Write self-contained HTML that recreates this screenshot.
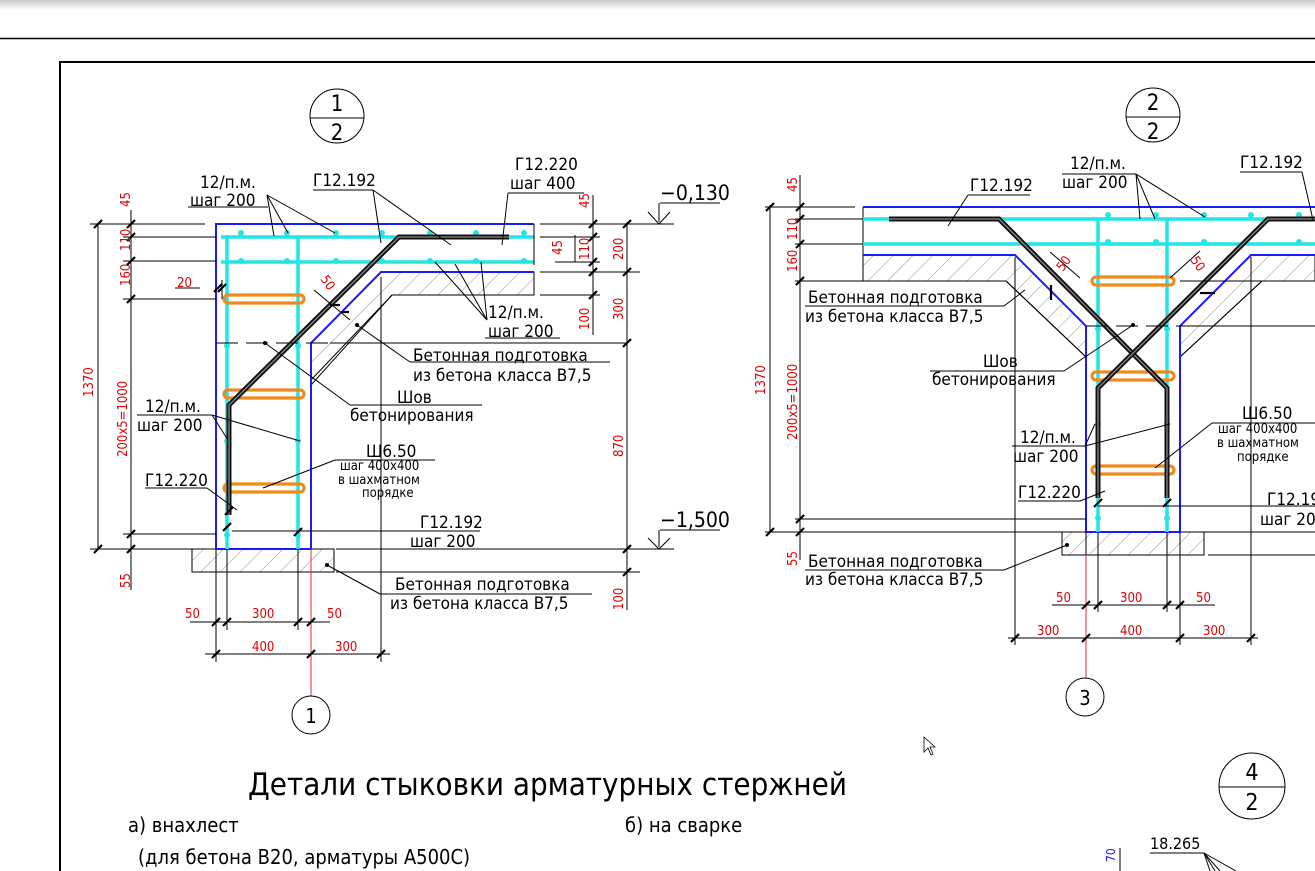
<!DOCTYPE html>
<html><head><meta charset="utf-8"><style>
html,body{margin:0;padding:0;background:#fff;width:1315px;height:871px;overflow:hidden}
svg{display:block}
text{font-family:"Liberation Sans Narrow","DejaVu Sans Condensed","Liberation Sans",sans-serif;fill:#000}
.r text{fill:#e00000}
text.bl{fill:#2020ff}
.k{stroke:#000;stroke-width:1;fill:none}
.t{stroke:#000;stroke-width:2.2}
.b{stroke:#1a1aff;stroke-width:2;fill:none}
.c{stroke:#22e6e6;stroke-width:3.5;fill:none}
.o{stroke:#f08a1a;stroke-width:3.2;fill:none;stroke-linecap:round}
.bar{stroke:#111;stroke-width:5;fill:none;stroke-linejoin:miter}
.bar2{stroke:#888;stroke-width:1.3;fill:none}
.h{fill:url(#hat);stroke:#000;stroke-width:1}
</style></head><body>
<svg width="1315" height="871" viewBox="0 0 1315 871" xmlns="http://www.w3.org/2000/svg">
<defs>
<pattern id="hat" width="14" height="14" patternUnits="userSpaceOnUse" patternTransform="rotate(45)">
<line x1="0" y1="0" x2="0" y2="14" stroke="#777" stroke-width="0.8"/>
</pattern>
<linearGradient id="g" x1="0" y1="0" x2="0" y2="1"><stop offset="0" stop-color="#c8c8c8"/><stop offset="1" stop-color="#fff"/></linearGradient>
</defs>
<rect x="0" y="0" width="1315" height="10" fill="url(#g)"/>
<line x1="0" y1="38.5" x2="1315" y2="38.5" stroke="#000" stroke-width="1.5"/>
<polyline points="60,871 60,62 1315,62" fill="none" stroke="#000" stroke-width="2"/>

<!-- ===== LEFT DETAIL ===== -->
<circle cx="337" cy="116" r="27" class="k"/>
<line x1="310" y1="118" x2="364" y2="118" class="k" stroke-width="1.5"/>
<text x="337" y="111" font-size="22" text-anchor="middle">1</text>
<text x="337" y="140" font-size="22" text-anchor="middle">2</text>

<polygon class="h" points="381,272 534,272 534,295 392,295 311,380 311,343" stroke="none"/>
<polyline points="534,295 392,295 311,385" class="k"/>
<rect class="h" x="192" y="549" width="142" height="23"/>
<polyline class="b" points="216,549 216,224 534,224"/>
<polyline class="b" points="534,272 381,272 311,343 311,549 216,549"/>
<line class="c" x1="221" y1="237" x2="534" y2="237"/>
<line class="c" x1="221" y1="262" x2="534" y2="262"/>
<line class="c" x1="227" y1="237" x2="227" y2="549"/>
<line class="c" x1="298" y1="237" x2="298" y2="549"/>
<g fill="#22e6e6"><circle cx="241" cy="233" r="3"/><circle cx="287" cy="233" r="3"/><circle cx="336" cy="233" r="3"/><circle cx="382" cy="233" r="3"/><circle cx="430" cy="233" r="3"/><circle cx="476" cy="233" r="3"/><circle cx="524" cy="233" r="3"/>
<circle cx="241" cy="261" r="3"/><circle cx="287" cy="261" r="3"/><circle cx="336" cy="261" r="3"/><circle cx="382" cy="261" r="3"/><circle cx="430" cy="261" r="3"/><circle cx="476" cy="261" r="3"/><circle cx="524" cy="261" r="3"/>
<circle cx="227" cy="346" r="3"/><circle cx="298" cy="346" r="3"/><circle cx="227" cy="441" r="3"/><circle cx="298" cy="441" r="3"/><circle cx="227" cy="535" r="3"/><circle cx="298" cy="535" r="3"/></g>
<g class="o"><path d="M228,295 H300 a4,4 0 0 1 0,8 H228 a4,4 0 0 1 0,-8"/><path d="M228,390 H300 a4,4 0 0 1 0,8 H228 a4,4 0 0 1 0,-8"/><path d="M228,484 H300 a4,4 0 0 1 0,8 H228 a4,4 0 0 1 0,-8"/></g>
<polyline class="bar" points="509,237 399,237 229,405 229,515"/>
<polyline class="bar2" points="509,237 399,237 229,405 229,515"/>
<line x1="216" y1="343" x2="627" y2="343" stroke="#000" stroke-width="1" stroke-dasharray="22,8"/>
<line x1="330" y1="343" x2="627" y2="343" stroke="#000" stroke-width="1"/>
<g class="k">
<line x1="98" y1="224" x2="98" y2="549"/><line x1="131" y1="210" x2="131" y2="590"/>
<line x1="90" y1="224" x2="205" y2="224"/><line x1="123" y1="237" x2="216" y2="237"/><line x1="123" y1="261" x2="216" y2="261"/><line x1="123" y1="299" x2="216" y2="299"/><line x1="123" y1="534" x2="216" y2="534"/><line x1="90" y1="549" x2="192" y2="549"/>
<line x1="175" y1="288" x2="200" y2="288"/>
<line x1="222" y1="280" x2="222" y2="299"/>
<line x1="593" y1="195" x2="593" y2="335"/><line x1="627" y1="222" x2="627" y2="610"/>
<line x1="540" y1="224" x2="674" y2="224"/><line x1="540" y1="237" x2="600" y2="237"/><line x1="540" y1="272" x2="640" y2="272"/><line x1="540" y1="295" x2="600" y2="295"/>
<line x1="555" y1="262" x2="600" y2="262"/><line x1="575" y1="235" x2="575" y2="262"/>
<line x1="534" y1="224" x2="534" y2="265"/>
<line x1="336" y1="549" x2="674" y2="549"/><line x1="336" y1="572" x2="640" y2="572"/>
<line x1="190" y1="622" x2="330" y2="622"/><line x1="205" y1="654" x2="390" y2="654"/>
<line x1="216" y1="549" x2="216" y2="662"/><line x1="227" y1="549" x2="227" y2="630"/><line x1="298" y1="549" x2="298" y2="630"/><line x1="381" y1="277" x2="381" y2="662"/>
<polyline points="660,203 720,203"/><line x1="659" y1="203" x2="659" y2="222"/><polyline points="648,212 659,224 670,212"/>
<polyline points="660,530 720,530"/><line x1="659" y1="530" x2="659" y2="547"/><polyline points="648,538 659,549 670,538"/>
</g>
<line x1="311" y1="549" x2="311" y2="696" stroke="#e03030" stroke-width="1"/>
<g class="t">
<line x1="94" y1="228" x2="102" y2="220"/><line x1="94" y1="553" x2="102" y2="545"/>
<line x1="127" y1="228" x2="135" y2="220"/><line x1="127" y1="241" x2="135" y2="233"/><line x1="127" y1="265" x2="135" y2="257"/><line x1="127" y1="303" x2="135" y2="295"/><line x1="127" y1="538" x2="135" y2="530"/><line x1="127" y1="553" x2="135" y2="545"/>
<line x1="214" y1="292" x2="222" y2="284"/><line x1="218" y1="292" x2="226" y2="284"/>
<line x1="589" y1="228" x2="597" y2="220"/><line x1="589" y1="241" x2="597" y2="233"/><line x1="589" y1="266" x2="597" y2="258"/><line x1="589" y1="276" x2="597" y2="268"/><line x1="589" y1="299" x2="597" y2="291"/>
<line x1="623" y1="228" x2="631" y2="220"/><line x1="623" y1="276" x2="631" y2="268"/><line x1="623" y1="347" x2="631" y2="339"/><line x1="623" y1="553" x2="631" y2="545"/><line x1="623" y1="576" x2="631" y2="568"/>
<line x1="212" y1="626" x2="220" y2="618"/><line x1="223" y1="626" x2="231" y2="618"/><line x1="294" y1="626" x2="302" y2="618"/><line x1="307" y1="626" x2="315" y2="618"/>
<line x1="212" y1="658" x2="220" y2="650"/><line x1="307" y1="658" x2="315" y2="650"/><line x1="377" y1="658" x2="385" y2="650"/>
<line x1="330" y1="305" x2="340" y2="305"/><line x1="342" y1="312" x2="349" y2="312"/>
<line x1="225" y1="515" x2="233" y2="507"/><line x1="294" y1="536" x2="302" y2="528"/><line x1="223" y1="531" x2="231" y2="523"/>
</g>
<line x1="314" y1="290" x2="350" y2="320" class="k"/>
<g class="k">
<line x1="188" y1="207" x2="268" y2="207"/><polyline points="267,195 274,236"/><polyline points="267,195 288,233"/><polyline points="267,195 335,233"/>
<line x1="313" y1="190" x2="373" y2="190"/><polyline points="373,190 381,243"/><polyline points="373,190 451,245"/>
<line x1="508" y1="193" x2="584" y2="193"/><polyline points="508,193 502,245"/>
<line x1="485" y1="338" x2="560" y2="338"/><polyline points="487,320 435,262"/><polyline points="487,320 455,264"/><polyline points="487,320 481,262"/>
<line x1="410" y1="362" x2="610" y2="362"/><polyline points="410,362 357,325"/>
<line x1="350" y1="405" x2="482" y2="405"/><polyline points="350,405 265,343"/>
<line x1="137" y1="415" x2="212" y2="415"/><polyline points="212,415 228,440"/><polyline points="212,415 300,441"/>
<line x1="335" y1="460" x2="435" y2="460"/><polyline points="335,460 263,488"/>
<line x1="145" y1="488" x2="207" y2="488"/><polyline points="207,488 237,510"/>
<line x1="232" y1="531" x2="480" y2="531"/>
<line x1="380" y1="594" x2="592" y2="594"/><polyline points="380,594 327,565"/>
</g>
<circle cx="357" cy="325" r="2"/><circle cx="265" cy="343" r="2"/><circle cx="327" cy="565" r="2"/>
<circle cx="311" cy="715" r="19" class="k"/><text x="311" y="723" font-size="20" text-anchor="middle">1</text>

<g font-size="17">
<text x="200" y="188">12/п.м.</text><text x="190" y="206">шаг 200</text>
<text x="313" y="186">Г12.192</text>
<text x="515" y="170">Г12.220</text><text x="510" y="189">шаг 400</text>
<text x="488" y="318">12/п.м.</text><text x="488" y="337">шаг 200</text>
<text x="413" y="361">Бетонная подготовка</text><text x="413" y="381">из бетона класса В7,5</text>
<text x="397" y="403">Шов</text><text x="350" y="421">бетонирования</text>
<text x="145" y="412">12/п.м.</text><text x="137" y="431">шаг 200</text>
<text x="366" y="457">Ш6.50</text>
<text x="145" y="486">Г12.220</text>
<text x="420" y="528">Г12.192</text><text x="410" y="547">шаг 200</text>
<text x="395" y="590">Бетонная подготовка</text><text x="390" y="609">из бетона класса В7,5</text>
</g>
<g font-size="13"><text x="340" y="470">шаг 400х400</text><text x="338" y="484">в шахматном</text><text x="362" y="497">порядке</text></g>
<g font-size="21"><text x="660" y="200">−0,130</text><text x="660" y="527">−1,500</text></g>
<g font-size="13" class="r">
<text transform="translate(130,207) rotate(-90)">45</text>
<text transform="translate(130,251) rotate(-90)">110</text>
<text transform="translate(130,286) rotate(-90)">160</text>
<text x="177" y="287">20</text>
<text transform="translate(93,397) rotate(-90)">1370</text>
<text transform="translate(127,457) rotate(-90)">200х5=1000</text>
<text transform="translate(130,588) rotate(-90)">55</text>
<text transform="translate(589,208) rotate(-90)">45</text>
<text transform="translate(562,255) rotate(-90)">45</text>
<text transform="translate(589,260) rotate(-90)">110</text>
<text transform="translate(589,330) rotate(-90)">100</text>
<text transform="translate(623,260) rotate(-90)">200</text>
<text transform="translate(623,320) rotate(-90)">300</text>
<text transform="translate(623,457) rotate(-90)">870</text>
<text transform="translate(623,610) rotate(-90)">100</text>
<text transform="translate(320,279) rotate(55)">50</text>
<text x="185" y="618">50</text><text x="252" y="618">300</text><text x="327" y="618">50</text>
<text x="252" y="651">400</text><text x="335" y="651">300</text>
</g>

<!-- ===== RIGHT DETAIL ===== -->
<circle cx="1153" cy="115" r="27" class="k"/>
<line x1="1126" y1="117" x2="1180" y2="117" class="k" stroke-width="1.5"/>
<text x="1153" y="110" font-size="22" text-anchor="middle">2</text>
<text x="1153" y="139" font-size="22" text-anchor="middle">2</text>

<polygon class="h" points="863,255 1015,255 1086,326 1086,357 1006,281 863,281" stroke="none"/>
<polygon class="h" points="1315,255 1251,255 1180,326 1180,357 1262,281 1315,281" stroke="none"/>
<polyline class="k" points="863,281 1006,281 1086,357"/>
<polyline class="k" points="1315,281 1262,281 1180,357"/>
<line class="k" x1="863" y1="207" x2="863" y2="281"/>
<rect class="h" x="1062" y="532" width="142" height="23"/>
<line class="b" x1="863" y1="207" x2="1315" y2="207"/>
<polyline class="b" points="863,255 1015,255 1086,326 1086,532 1180,532 1180,326 1251,255 1315,255"/>
<line class="c" x1="863" y1="219" x2="1315" y2="219"/>
<line class="c" x1="863" y1="244" x2="1315" y2="244"/>
<line class="c" x1="1098" y1="219" x2="1098" y2="532"/>
<line class="c" x1="1167" y1="219" x2="1167" y2="532"/>
<g fill="#22e6e6"><circle cx="1108" cy="215" r="3"/><circle cx="1156" cy="215" r="3"/><circle cx="1204" cy="215" r="3"/><circle cx="1251" cy="215" r="3"/><circle cx="1299" cy="215" r="3"/>
<circle cx="1108" cy="242" r="3"/><circle cx="1156" cy="242" r="3"/><circle cx="1204" cy="242" r="3"/><circle cx="1299" cy="242" r="3"/>
<circle cx="1098" cy="329" r="3"/><circle cx="1167" cy="329" r="3"/><circle cx="1098" cy="424" r="3"/><circle cx="1167" cy="424" r="3"/><circle cx="1098" cy="518" r="3"/><circle cx="1167" cy="518" r="3"/></g>
<g class="o"><path d="M1096,277 H1170 a4,4 0 0 1 0,8 H1096 a4,4 0 0 1 0,-8"/><path d="M1096,372 H1170 a4,4 0 0 1 0,8 H1096 a4,4 0 0 1 0,-8"/><path d="M1096,466 H1170 a4,4 0 0 1 0,8 H1096 a4,4 0 0 1 0,-8"/></g>
<polyline class="bar" points="889,219 999,219 1167,388 1167,498"/>
<polyline class="bar2" points="889,219 999,219 1167,388 1167,498"/>
<polyline class="bar" points="1315,219 1268,219 1098,388 1098,498"/>
<polyline class="bar2" points="1315,219 1268,219 1098,388 1098,498"/>
<line x1="1086" y1="326" x2="1315" y2="326" stroke="#000" stroke-width="1" stroke-dasharray="22,8"/>
<g class="k">
<line x1="770" y1="205" x2="770" y2="532"/><line x1="800" y1="175" x2="800" y2="560"/>
<line x1="765" y1="207" x2="855" y2="207"/><line x1="795" y1="219" x2="863" y2="219"/><line x1="795" y1="244" x2="863" y2="244"/><line x1="795" y1="281" x2="863" y2="281"/><line x1="795" y1="519" x2="1086" y2="519"/><line x1="765" y1="532" x2="1062" y2="532"/>
<line x1="1204" y1="532" x2="1315" y2="532"/><line x1="1208" y1="555" x2="1315" y2="555"/>
<line x1="1015" y1="257" x2="1015" y2="645"/><line x1="1251" y1="257" x2="1251" y2="645"/>
<line x1="1086" y1="532" x2="1086" y2="645"/><line x1="1098" y1="532" x2="1098" y2="612"/><line x1="1167" y1="532" x2="1167" y2="612"/><line x1="1180" y1="532" x2="1180" y2="645"/>
<line x1="1052" y1="605" x2="1215" y2="605"/><line x1="1008" y1="638" x2="1258" y2="638"/>
<line x1="1180" y1="326" x2="1315" y2="326"/>
<line x1="1180" y1="281" x2="1315" y2="281"/>
<line x1="1098" y1="506" x2="1315" y2="506"/>
<line x1="1050" y1="252" x2="1080" y2="278"/><line x1="1200" y1="251" x2="1170" y2="278"/>
</g>
<line x1="1086" y1="555" x2="1086" y2="678" stroke="#e03030" stroke-width="1"/>
<g class="t">
<line x1="766" y1="211" x2="774" y2="203"/><line x1="766" y1="536" x2="774" y2="528"/>
<line x1="796" y1="211" x2="804" y2="203"/><line x1="796" y1="223" x2="804" y2="215"/><line x1="796" y1="248" x2="804" y2="240"/><line x1="796" y1="285" x2="804" y2="277"/><line x1="796" y1="523" x2="804" y2="515"/><line x1="796" y1="536" x2="804" y2="528"/>
<line x1="1082" y1="609" x2="1090" y2="601"/><line x1="1094" y1="609" x2="1102" y2="601"/><line x1="1163" y1="609" x2="1171" y2="601"/><line x1="1176" y1="609" x2="1184" y2="601"/>
<line x1="1011" y1="642" x2="1019" y2="634"/><line x1="1082" y1="642" x2="1090" y2="634"/><line x1="1176" y1="642" x2="1184" y2="634"/><line x1="1247" y1="642" x2="1255" y2="634"/>
<line x1="1094" y1="507" x2="1102" y2="499"/><line x1="1163" y1="507" x2="1171" y2="499"/>
<line x1="1051" y1="285" x2="1051" y2="300"/><line x1="1200" y1="293" x2="1215" y2="293"/>
</g>
<g class="k">
<line x1="968" y1="195" x2="1030" y2="195"/><polyline points="968,195 948,226"/>
<line x1="1062" y1="174" x2="1136" y2="174"/><polyline points="1136,174 1140,219"/><polyline points="1136,174 1155,219"/><polyline points="1136,174 1205,217"/>
<line x1="1240" y1="172" x2="1302" y2="172"/><polyline points="1302,172 1313,220"/>
<line x1="805" y1="306" x2="1004" y2="306"/><polyline points="1004,306 1025,290"/>
<line x1="930" y1="371" x2="1064" y2="371"/><polyline points="1064,371 1133,325"/>
<line x1="1012" y1="446" x2="1085" y2="446"/><polyline points="1085,446 1095,424"/><polyline points="1085,446 1170,424"/>
<line x1="1212" y1="423" x2="1315" y2="423"/><polyline points="1212,423 1155,468"/>
<line x1="1018" y1="501" x2="1080" y2="501"/><polyline points="1080,501 1105,491"/>
<line x1="805" y1="570" x2="1004" y2="570"/><polyline points="1004,570 1067,545"/>
</g>
<circle cx="1133" cy="325" r="2"/><circle cx="1067" cy="545" r="2"/>
<circle cx="1085" cy="697" r="19" class="k"/><text x="1085" y="705" font-size="20" text-anchor="middle">3</text>
<g font-size="17">
<text x="970" y="191">Г12.192</text>
<text x="1070" y="169">12/п.м.</text><text x="1062" y="188">шаг 200</text>
<text x="1240" y="168">Г12.192</text>
<text x="808" y="303">Бетонная подготовка</text><text x="805" y="322">из бетона класса В7,5</text>
<text x="983" y="367">Шов</text><text x="932" y="385">бетонирования</text>
<text x="1020" y="443">12/п.м.</text><text x="1013" y="462">шаг 200</text>
<text x="1242" y="419">Ш6.50</text>
<text x="1018" y="498">Г12.220</text>
<text x="1267" y="505">Г12.192</text><text x="1260" y="525">шаг 200</text>
<text x="808" y="567">Бетонная подготовка</text><text x="805" y="585">из бетона класса В7,5</text>
</g>
<g font-size="13"><text x="1218" y="433">шаг 400х400</text><text x="1217" y="447">в шахматном</text><text x="1237" y="461">порядке</text></g>
<g font-size="13" class="r">
<text transform="translate(797,192) rotate(-90)">45</text>
<text transform="translate(797,240) rotate(-90)">110</text>
<text transform="translate(797,272) rotate(-90)">160</text>
<text transform="translate(765,395) rotate(-90)">1370</text>
<text transform="translate(797,440) rotate(-90)">200х5=1000</text>
<text transform="translate(797,566) rotate(-90)">55</text>
<text transform="translate(1063,272) rotate(-55)">50</text>
<text transform="translate(1190,260) rotate(55)">50</text>
<text x="1056" y="602">50</text><text x="1120" y="602">300</text><text x="1196" y="602">50</text>
<text x="1037" y="635">300</text><text x="1120" y="635">400</text><text x="1203" y="635">300</text>
</g>

<text x="248" y="795" font-size="31">Детали стыковки арматурных стержней</text>
<text x="128" y="832" font-size="20">а) внахлест</text>
<text x="138" y="864" font-size="20">(для бетона В20, арматуры А500С)</text>
<text x="625" y="832" font-size="20">б) на сварке</text>
<circle cx="1252" cy="786" r="33" class="k"/>
<line x1="1219" y1="787" x2="1285" y2="787" class="k" stroke-width="1.5"/>
<text x="1252" y="780" font-size="23" text-anchor="middle">4</text>
<text x="1252" y="810" font-size="23" text-anchor="middle">2</text>
<text x="1150" y="849" font-size="16">18.265</text>
<g class="k"><line x1="1150" y1="853" x2="1204" y2="853"/><line x1="1204" y1="853" x2="1236" y2="871"/><line x1="1204" y1="853" x2="1215" y2="871"/><line x1="1204" y1="853" x2="1210" y2="871"/><line x1="1204" y1="853" x2="1220" y2="871"/><line x1="1120" y1="848" x2="1120" y2="871"/></g>
<text class="bl" transform="translate(1115,862) rotate(-90)" font-size="12">70</text>
<path d="M924,737 L924,752 L928,748 L931,755 L933,754 L930,747 L935,747 Z" fill="#fff" stroke="#000" stroke-width="0.8"/>
</svg>
</body></html>
